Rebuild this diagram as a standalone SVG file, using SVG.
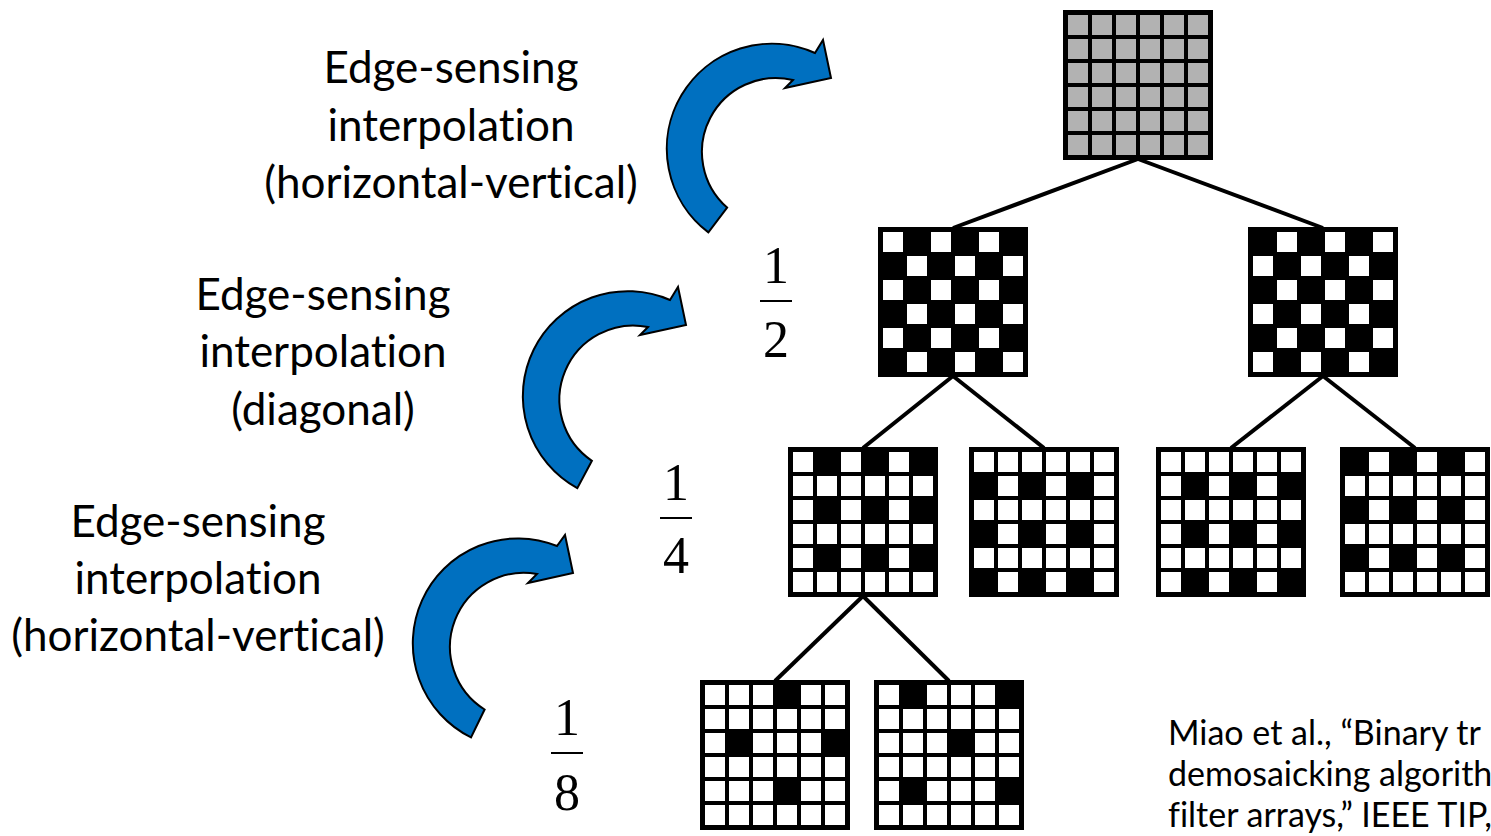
<svg xmlns="http://www.w3.org/2000/svg" width="1491" height="836" viewBox="0 0 1491 836">
<style>
.lbl{font-family:Lato,"Liberation Sans",sans-serif;font-size:44px;fill:#000;text-anchor:middle;font-variant-ligatures:none}
.cit{font-family:Lato,"Liberation Sans",sans-serif;font-size:34px;fill:#000;font-variant-ligatures:none}
.frac{font-family:"Liberation Serif","Times New Roman",serif;font-size:52px;fill:#000;text-anchor:middle}
.fl{stroke:#000;stroke-width:2}
.arrow{fill:#0070C0;stroke:#000;stroke-width:2;stroke-linejoin:miter}
.conn{stroke:#000;stroke-width:4;fill:none}
.blk{fill:#000}
.w{fill:#fff}
</style>
<defs>
<g id="gridlines">
<rect x="25" y="5" width="4" height="140"/><rect x="49" y="5" width="4" height="140"/><rect x="73" y="5" width="4" height="140"/><rect x="97" y="5" width="4" height="140"/><rect x="121" y="5" width="4" height="140"/>
<rect x="5" y="25" width="140" height="4"/><rect x="5" y="49" width="140" height="4"/><rect x="5" y="73" width="140" height="4"/><rect x="5" y="97" width="140" height="4"/><rect x="5" y="121" width="140" height="4"/>
</g>
<g id="wg"><rect width="150" height="150" fill="#000"/><rect x="5" y="5" width="140" height="140" fill="#fff"/><use href="#gridlines"/></g>
<g id="gg"><rect width="150" height="150" fill="#000"/><rect x="5" y="5" width="140" height="140" fill="#b2b2b2"/><use href="#gridlines"/></g>
</defs>
<rect width="1491" height="836" fill="#fff"/>

<g id="connectors">
<line class="conn" x1="1138" y1="159" x2="953" y2="228"/>
<line class="conn" x1="1138" y1="159" x2="1323" y2="228"/>
<line class="conn" x1="953" y1="376" x2="863" y2="448"/>
<line class="conn" x1="953" y1="376" x2="1044" y2="448"/>
<line class="conn" x1="1323" y1="376" x2="1231" y2="448"/>
<line class="conn" x1="1323" y1="376" x2="1415" y2="448"/>
<line class="conn" x1="863" y1="596" x2="775" y2="681"/>
<line class="conn" x1="863" y1="596" x2="949" y2="681"/>
</g>

<g id="grid-full">
<use href="#gg" x="1063" y="10"/>
</g>
<g id="grid-half-1">
<rect class="blk" x="878" y="227" width="150" height="150"/>
<rect class="w" x="883" y="232" width="20" height="20"/><rect class="w" x="931" y="232" width="20" height="20"/><rect class="w" x="979" y="232" width="20" height="20"/>
<rect class="w" x="907" y="256" width="20" height="20"/><rect class="w" x="955" y="256" width="20" height="20"/><rect class="w" x="1003" y="256" width="20" height="20"/>
<rect class="w" x="883" y="280" width="20" height="20"/><rect class="w" x="931" y="280" width="20" height="20"/><rect class="w" x="979" y="280" width="20" height="20"/>
<rect class="w" x="907" y="304" width="20" height="20"/><rect class="w" x="955" y="304" width="20" height="20"/><rect class="w" x="1003" y="304" width="20" height="20"/>
<rect class="w" x="883" y="328" width="20" height="20"/><rect class="w" x="931" y="328" width="20" height="20"/><rect class="w" x="979" y="328" width="20" height="20"/>
<rect class="w" x="907" y="352" width="20" height="20"/><rect class="w" x="955" y="352" width="20" height="20"/><rect class="w" x="1003" y="352" width="20" height="20"/>
</g>
<g id="grid-half-2">
<rect class="blk" x="1248" y="227" width="150" height="150"/>
<rect class="w" x="1277" y="232" width="20" height="20"/><rect class="w" x="1325" y="232" width="20" height="20"/><rect class="w" x="1373" y="232" width="20" height="20"/>
<rect class="w" x="1253" y="256" width="20" height="20"/><rect class="w" x="1301" y="256" width="20" height="20"/><rect class="w" x="1349" y="256" width="20" height="20"/>
<rect class="w" x="1277" y="280" width="20" height="20"/><rect class="w" x="1325" y="280" width="20" height="20"/><rect class="w" x="1373" y="280" width="20" height="20"/>
<rect class="w" x="1253" y="304" width="20" height="20"/><rect class="w" x="1301" y="304" width="20" height="20"/><rect class="w" x="1349" y="304" width="20" height="20"/>
<rect class="w" x="1277" y="328" width="20" height="20"/><rect class="w" x="1325" y="328" width="20" height="20"/><rect class="w" x="1373" y="328" width="20" height="20"/>
<rect class="w" x="1253" y="352" width="20" height="20"/><rect class="w" x="1301" y="352" width="20" height="20"/><rect class="w" x="1349" y="352" width="20" height="20"/>
</g>
<g id="grid-quarter-1">
<use href="#wg" x="788" y="447"/>
<rect class="blk" x="817" y="452" width="20" height="20"/><rect class="blk" x="865" y="452" width="20" height="20"/><rect class="blk" x="913" y="452" width="20" height="20"/>
<rect class="blk" x="817" y="500" width="20" height="20"/><rect class="blk" x="865" y="500" width="20" height="20"/><rect class="blk" x="913" y="500" width="20" height="20"/>
<rect class="blk" x="817" y="548" width="20" height="20"/><rect class="blk" x="865" y="548" width="20" height="20"/><rect class="blk" x="913" y="548" width="20" height="20"/>
</g>
<g id="grid-quarter-2">
<use href="#wg" x="969" y="447"/>
<rect class="blk" x="974" y="476" width="20" height="20"/><rect class="blk" x="1022" y="476" width="20" height="20"/><rect class="blk" x="1070" y="476" width="20" height="20"/>
<rect class="blk" x="974" y="524" width="20" height="20"/><rect class="blk" x="1022" y="524" width="20" height="20"/><rect class="blk" x="1070" y="524" width="20" height="20"/>
<rect class="blk" x="974" y="572" width="20" height="20"/><rect class="blk" x="1022" y="572" width="20" height="20"/><rect class="blk" x="1070" y="572" width="20" height="20"/>
</g>
<g id="grid-quarter-3">
<use href="#wg" x="1156" y="447"/>
<rect class="blk" x="1185" y="476" width="20" height="20"/><rect class="blk" x="1233" y="476" width="20" height="20"/><rect class="blk" x="1281" y="476" width="20" height="20"/>
<rect class="blk" x="1185" y="524" width="20" height="20"/><rect class="blk" x="1233" y="524" width="20" height="20"/><rect class="blk" x="1281" y="524" width="20" height="20"/>
<rect class="blk" x="1185" y="572" width="20" height="20"/><rect class="blk" x="1233" y="572" width="20" height="20"/><rect class="blk" x="1281" y="572" width="20" height="20"/>
</g>
<g id="grid-quarter-4">
<use href="#wg" x="1340" y="447"/>
<rect class="blk" x="1345" y="452" width="20" height="20"/><rect class="blk" x="1393" y="452" width="20" height="20"/><rect class="blk" x="1441" y="452" width="20" height="20"/>
<rect class="blk" x="1345" y="500" width="20" height="20"/><rect class="blk" x="1393" y="500" width="20" height="20"/><rect class="blk" x="1441" y="500" width="20" height="20"/>
<rect class="blk" x="1345" y="548" width="20" height="20"/><rect class="blk" x="1393" y="548" width="20" height="20"/><rect class="blk" x="1441" y="548" width="20" height="20"/>
</g>
<g id="grid-eighth-1">
<use href="#wg" x="700" y="680"/>
<rect class="blk" x="777" y="685" width="20" height="20"/>
<rect class="blk" x="729" y="733" width="20" height="20"/>
<rect class="blk" x="825" y="733" width="20" height="20"/>
<rect class="blk" x="777" y="781" width="20" height="20"/>
</g>
<g id="grid-eighth-2">
<use href="#wg" x="874" y="680"/>
<rect class="blk" x="903" y="685" width="20" height="20"/>
<rect class="blk" x="999" y="685" width="20" height="20"/>
<rect class="blk" x="951" y="733" width="20" height="20"/>
<rect class="blk" x="903" y="781" width="20" height="20"/>
<rect class="blk" x="999" y="781" width="20" height="20"/>
</g>

<g id="arrow-1">
<path class="arrow" d="M708.4,232.4 A105,105 0 0 1 815,53 L823,40 L831,78 L785,88 L793,80 A74,74 0 0 0 727.1,207.6 Z"/>
</g>
<g id="arrow-2">
<path class="arrow" d="M577.3,488.2 A105,105 0 0 1 670,300 L678,287 L686,325 L640,335 L648,327 A74,74 0 0 0 591.9,460.8 Z"/>
</g>
<g id="arrow-3">
<path class="arrow" d="M471,737.4 A105,105 0 0 1 557,546 L565,535 L573,573 L528,583 L537,574 A74,74 0 0 0 484.6,709.5 Z"/>
</g>

<g id="label-1">
<text class="lbl" x="451" y="83">Edge-sensing</text>
<text class="lbl" x="451" y="141">interpolation</text>
<text class="lbl" x="451" y="198">(horizontal-vertical)</text>
</g>
<g id="label-2">
<text class="lbl" x="323" y="310">Edge-sensing</text>
<text class="lbl" x="323" y="367">interpolation</text>
<text class="lbl" x="323" y="425">(diagonal)</text>
</g>
<g id="label-3">
<text class="lbl" x="198" y="537">Edge-sensing</text>
<text class="lbl" x="198" y="594">interpolation</text>
<text class="lbl" x="198" y="651">(horizontal-vertical)</text>
</g>

<g id="frac-half">
<text class="frac" x="776" y="283">1</text>
<line class="fl" x1="760" y1="301" x2="792" y2="301"/>
<text class="frac" x="776" y="357">2</text>
</g>
<g id="frac-quarter">
<text class="frac" x="676" y="500">1</text>
<line class="fl" x1="660" y1="518" x2="692" y2="518"/>
<text class="frac" x="676" y="573">4</text>
</g>
<g id="frac-eighth">
<text class="frac" x="567" y="735">1</text>
<line class="fl" x1="551" y1="753" x2="583" y2="753"/>
<text class="frac" x="567" y="810">8</text>
</g>

<g id="citation">
<text class="cit" x="1168" y="745">Miao et al., “Binary tr</text>
<text class="cit" x="1168" y="786">demosaicking algorith</text>
<text class="cit" x="1168" y="827">filter arrays,” IEEE TIP,</text>
</g>
</svg>
